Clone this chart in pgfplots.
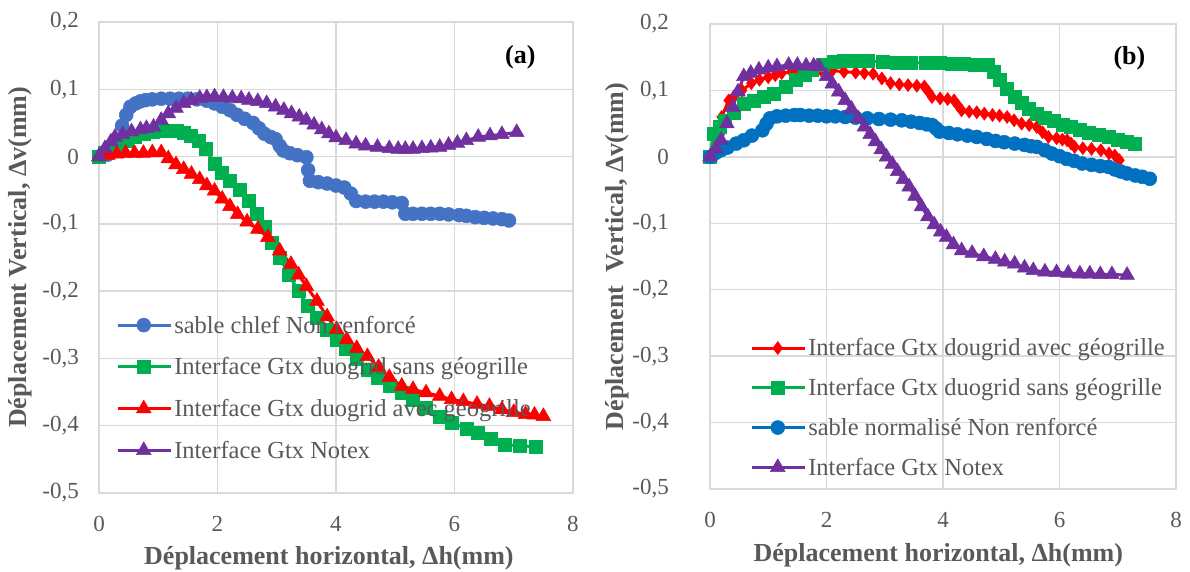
\documentclass[border=0pt]{standalone}
\usepackage{pgfplots}
\pgfplotsset{compat=1.18}
\usepackage{fontspec}
\setmainfont{Liberation Serif}
\definecolor{cblueA}{HTML}{4472C4}
\definecolor{cblueB}{HTML}{0070C0}
\definecolor{cgreen}{HTML}{00B050}
\definecolor{cred}{HTML}{FF0000}
\definecolor{cpurple}{HTML}{7030A0}
\definecolor{ctext}{HTML}{595959}
\definecolor{cgrid}{HTML}{D9D9D9}
\pgfplotsset{
  commonax/.style={
    scale only axis,
    xmin=0, xmax=8, ymin=-0.5, ymax=0.2,
    xtick={0,2,4,6,8},
    ytick={-0.5,-0.4,-0.3,-0.2,-0.1,0,0.1,0.2},
    xticklabels={0,2,4,6,8},
    yticklabels={{-0,5},{-0,4},{-0,3},{-0,2},{-0,1},{0},{0,1},{0,2}},
    grid=major,
    major grid style={cgrid, line width=1.3bp},
    axis line style={cgrid, line width=1.5bp},
    major tick length=0pt,
    tick label style={font=\fontsize{23bp}{27bp}\selectfont, text=ctext, inner sep=0pt},
    yticklabel style={xshift=-20bp},
    xticklabel style={yshift=-23bp},
    label style={font=\bfseries\fontsize{26bp}{30bp}\selectfont, text=ctext},
    legend cell align=left,
    legend style={draw=none, fill=none, inner sep=0pt, row sep=19bp,
      font=\fontsize{24.5bp}{28bp}\selectfont, text=ctext,
      nodes={inner sep=2bp}},
    legend image code/.code={\draw[mark repeat=2,mark phase=2,#1] plot coordinates {(0bp,0bp) (26bp,0bp) (53bp,0bp)};},
    every axis plot/.append style={line width=3bp},
  },
}
\begin{document}
\begin{tikzpicture}
\useasboundingbox (0,0) rectangle (1190bp,572bp);
% ---------------- (a)
\begin{axis}[commonax,
  at={(99bp,79bp)}, anchor=south west,
  width=474bp, height=471bp,
  xlabel={Déplacement horizontal, Δh(mm)},
  ylabel={Déplacement Vertical, Δv(mm)},
  xlabel style={at={(axis description cs:0.485,-0.138)}, anchor=center},
  ylabel style={at={(axis description cs:-0.167,0.5)}, anchor=center},
  legend style={at={(rel axis cs:0.036,0.381)}, anchor=north west},
]
\addplot[cblueA, mark=*, mark size=7bp, mark options={solid, fill=cblueA, draw=cblueA, line width=0.5bp}] coordinates {
(0,0) (0.15,0.003) (0.3,0.02) (0.39,0.046) (0.46,0.062) (0.53,0.074) (0.62,0.079) (0.7,0.082) (0.79,0.084) (0.9,0.085) (1.05,0.086) (1.2,0.086) (1.35,0.086) (1.5,0.086) (1.65,0.085) (1.82,0.083) (1.95,0.079) (2.08,0.074) (2.21,0.069) (2.33,0.062) (2.46,0.056) (2.6,0.05) (2.7,0.042) (2.79,0.034) (2.9,0.029) (2.98,0.026) (3.05,0.016) (3.11,0.009) (3.22,0.005) (3.35,0.002) (3.5,-0.001) (3.53,-0.02) (3.56,-0.036) (3.7,-0.038) (3.85,-0.04) (4.0,-0.043) (4.14,-0.046) (4.25,-0.055) (4.34,-0.066) (4.5,-0.067) (4.65,-0.067) (4.8,-0.067) (4.95,-0.068) (5.11,-0.069) (5.17,-0.085) (5.3,-0.085) (5.45,-0.085) (5.6,-0.085) (5.75,-0.085) (5.9,-0.086) (6.08,-0.087) (6.2,-0.088) (6.35,-0.09) (6.5,-0.091) (6.65,-0.092) (6.8,-0.093) (6.92,-0.095)
};
\addlegendentry{sable chlef Non renforcé}
\addplot[cgreen, mark=square*, mark size=6.5bp, mark options={solid, fill=cgreen, draw=cgreen, line width=0.5bp}] coordinates {
(0,0) (0.1,0.006) (0.2,0.012) (0.3,0.017) (0.46,0.024) (0.6,0.029) (0.75,0.034) (0.9,0.037) (1.05,0.039) (1.2,0.039) (1.32,0.038) (1.43,0.036) (1.55,0.031) (1.69,0.024) (1.8,0.012) (1.95,-0.011) (2.08,-0.024) (2.21,-0.036) (2.37,-0.05) (2.53,-0.066) (2.66,-0.085) (2.79,-0.105) (2.92,-0.128) (3.05,-0.15) (3.2,-0.175) (3.37,-0.2) (3.52,-0.222) (3.68,-0.24) (3.85,-0.258) (4.01,-0.272) (4.17,-0.285) (4.35,-0.3) (4.53,-0.317) (4.7,-0.328) (4.9,-0.34) (5.11,-0.351) (5.3,-0.362) (5.52,-0.374) (5.75,-0.386) (5.95,-0.396) (6.2,-0.404) (6.4,-0.411) (6.62,-0.42) (6.85,-0.428) (7.1,-0.43) (7.37,-0.431)
};
\addlegendentry{Interface Gtx duogrid sans géogrille}
\addplot[cred, mark=triangle*, mark size=8.5bp, mark options={solid, fill=cred, draw=cred, line width=0.5bp}] coordinates {
(0,0) (0.15,0.002) (0.3,0.004) (0.45,0.005) (0.6,0.005) (0.75,0.005) (0.9,0.006) (1.05,0.006) (1.17,-0.003) (1.3,-0.012) (1.43,-0.019) (1.56,-0.026) (1.7,-0.034) (1.82,-0.043) (1.95,-0.051) (2.08,-0.063) (2.21,-0.074) (2.34,-0.086) (2.5,-0.097) (2.68,-0.108) (2.85,-0.12) (3.05,-0.14) (3.24,-0.16) (3.37,-0.176) (3.5,-0.193) (3.68,-0.215) (3.85,-0.238) (4.01,-0.257) (4.18,-0.272) (4.35,-0.285) (4.53,-0.297) (4.72,-0.313) (4.9,-0.328) (5.11,-0.341) (5.3,-0.346) (5.52,-0.351) (5.75,-0.356) (5.95,-0.361) (6.15,-0.364) (6.38,-0.368) (6.59,-0.371) (6.8,-0.376) (7.0,-0.38) (7.2,-0.383) (7.35,-0.384) (7.5,-0.386)
};
\addlegendentry{Interface Gtx duogrid avec géogrille}
\addplot[cpurple, mark=triangle*, mark size=8.5bp, mark options={solid, fill=cpurple, draw=cpurple, line width=0.5bp}] coordinates {
(0,0) (0.1,0.012) (0.2,0.022) (0.27,0.029) (0.4,0.033) (0.55,0.037) (0.7,0.04) (0.8,0.042) (0.92,0.044) (1.05,0.054) (1.17,0.064) (1.3,0.072) (1.43,0.079) (1.56,0.084) (1.7,0.087) (1.82,0.088) (1.95,0.089) (2.1,0.088) (2.25,0.087) (2.4,0.086) (2.53,0.084) (2.68,0.082) (2.83,0.079) (2.98,0.074) (3.12,0.069) (3.25,0.064) (3.38,0.059) (3.5,0.054) (3.63,0.047) (3.76,0.04) (3.88,0.034) (4.0,0.028) (4.17,0.024) (4.34,0.019) (4.5,0.016) (4.7,0.014) (4.9,0.012) (5.05,0.011) (5.17,0.011) (5.3,0.011) (5.45,0.012) (5.6,0.013) (5.75,0.014) (5.9,0.017) (6.05,0.02) (6.2,0.024) (6.4,0.029) (6.6,0.031) (6.8,0.033) (7.05,0.036)
};
\addlegendentry{Interface Gtx Notex}
\node[font=\bfseries\fontsize{26bp}{30bp}\selectfont] at (rel axis cs:0.889,0.926) {(a)};
\end{axis}
% ---------------- (b)
\begin{axis}[commonax,
  at={(710bp,83bp)}, anchor=south west,
  width=466bp, height=465bp,
  xlabel={Déplacement horizontal, Δh(mm)},
  ylabel={Déplacement\ \ Vertical, Δv(mm)},
  xlabel style={at={(axis description cs:0.49,-0.142)}, anchor=center},
  ylabel style={at={(axis description cs:-0.2,0.5)}, anchor=center},
  yticklabel style={xshift=-21bp},
  legend style={at={(rel axis cs:0.086,0.328)}, anchor=north west, row sep=17bp},
]
\addplot[cred, mark=diamond*, mark size=6.5bp, mark options={solid, fill=cred, draw=cred, line width=0.5bp}] coordinates {
(0,0) (0.1,0.03) (0.2,0.06) (0.32,0.085) (0.42,0.092) (0.55,0.1) (0.71,0.111) (0.85,0.116) (1.0,0.12) (1.12,0.123) (1.23,0.126) (1.4,0.128) (1.55,0.13) (1.74,0.131) (1.9,0.131) (2.1,0.13) (2.3,0.128) (2.5,0.127) (2.65,0.126) (2.8,0.125) (2.95,0.118) (3.1,0.111) (3.25,0.109) (3.4,0.108) (3.55,0.107) (3.68,0.106) (3.75,0.098) (3.81,0.09) (3.95,0.088) (4.08,0.087) (4.19,0.085) (4.26,0.077) (4.32,0.07) (4.45,0.068) (4.58,0.067) (4.71,0.065) (4.85,0.063) (4.97,0.062) (5.1,0.06) (5.22,0.055) (5.35,0.05) (5.48,0.048) (5.61,0.045) (5.71,0.037) (5.81,0.03) (5.95,0.028) (6.05,0.026) (6.13,0.025) (6.2,0.02) (6.26,0.015) (6.4,0.013) (6.55,0.012) (6.71,0.01) (6.85,0.005) (6.95,0.002) (7.03,-0.005)
};
\addlegendentry{Interface Gtx dougrid avec géogrille}
\addplot[cgreen, mark=square*, mark size=6.5bp, mark options={solid, fill=cgreen, draw=cgreen, line width=0.5bp}] coordinates {
(0,0) (0.06,0.035) (0.16,0.046) (0.26,0.055) (0.4,0.067) (0.58,0.08) (0.75,0.085) (0.92,0.09) (1.1,0.095) (1.3,0.106) (1.48,0.116) (1.62,0.124) (1.74,0.131) (1.93,0.138) (2.13,0.143) (2.3,0.144) (2.5,0.144) (2.7,0.144) (2.97,0.143) (3.2,0.142) (3.45,0.142) (3.7,0.141) (3.94,0.141) (4.15,0.14) (4.35,0.14) (4.55,0.139) (4.77,0.138) (4.87,0.128) (4.97,0.116) (5.1,0.103) (5.23,0.09) (5.35,0.082) (5.48,0.073) (5.61,0.065) (5.75,0.059) (5.9,0.054) (6.05,0.049) (6.19,0.045) (6.35,0.041) (6.5,0.037) (6.68,0.033) (6.84,0.03) (7.0,0.026) (7.15,0.023) (7.29,0.02)
};
\addlegendentry{Interface Gtx duogrid sans géogrille}
\addplot[cblueB, mark=*, mark size=7bp, mark options={solid, fill=cblueB, draw=cblueB, line width=0.5bp}] coordinates {
(0,0) (0.1,0.006) (0.19,0.01) (0.3,0.014) (0.45,0.02) (0.58,0.025) (0.72,0.032) (0.9,0.04) (0.97,0.05) (1.03,0.058) (1.15,0.061) (1.3,0.062) (1.45,0.063) (1.55,0.063) (1.7,0.062) (1.85,0.062) (2.0,0.061) (2.15,0.061) (2.32,0.06) (2.5,0.059) (2.7,0.058) (2.9,0.057) (3.1,0.056) (3.29,0.055) (3.45,0.053) (3.6,0.051) (3.72,0.049) (3.81,0.048) (3.88,0.043) (3.94,0.038) (4.1,0.036) (4.25,0.034) (4.42,0.032) (4.58,0.03) (4.75,0.027) (4.9,0.024) (5.05,0.022) (5.23,0.02) (5.4,0.018) (5.51,0.016) (5.61,0.015) (5.75,0.01) (5.87,0.005) (6.0,0.001) (6.12,-0.003) (6.25,-0.006) (6.39,-0.01) (6.55,-0.012) (6.7,-0.014) (6.84,-0.015) (6.95,-0.019) (7.05,-0.022) (7.16,-0.025) (7.3,-0.028) (7.42,-0.03) (7.55,-0.033)
};
\addlegendentry{sable normalisé Non renforcé}
\addplot[cpurple, mark=triangle*, mark size=8.5bp, mark options={solid, fill=cpurple, draw=cpurple, line width=0.5bp}] coordinates {
(0,0) (0.1,0.012) (0.19,0.025) (0.29,0.05) (0.39,0.075) (0.48,0.098) (0.58,0.121) (0.7,0.126) (0.84,0.131) (1.0,0.134) (1.15,0.136) (1.35,0.138) (1.5,0.138) (1.65,0.137) (1.78,0.137) (1.87,0.136) (2.0,0.121) (2.1,0.11) (2.21,0.098) (2.32,0.085) (2.43,0.072) (2.54,0.058) (2.65,0.045) (2.75,0.034) (2.84,0.023) (2.94,0.011) (3.03,0.0) (3.13,-0.011) (3.22,-0.022) (3.32,-0.034) (3.42,-0.045) (3.52,-0.059) (3.63,-0.075) (3.74,-0.09) (3.85,-0.102) (3.96,-0.113) (4.06,-0.121) (4.18,-0.132) (4.32,-0.141) (4.5,-0.145) (4.7,-0.15) (4.9,-0.154) (5.06,-0.158) (5.23,-0.161) (5.4,-0.167) (5.55,-0.171) (5.75,-0.173) (5.95,-0.174) (6.15,-0.175) (6.35,-0.176) (6.52,-0.176) (6.7,-0.177) (6.9,-0.177) (7.16,-0.178)
};
\addlegendentry{Interface Gtx Notex}
\node[font=\bfseries\fontsize{26bp}{30bp}\selectfont] at (rel axis cs:0.9,0.927) {(b)};
\end{axis}
\end{tikzpicture}
\end{document}
